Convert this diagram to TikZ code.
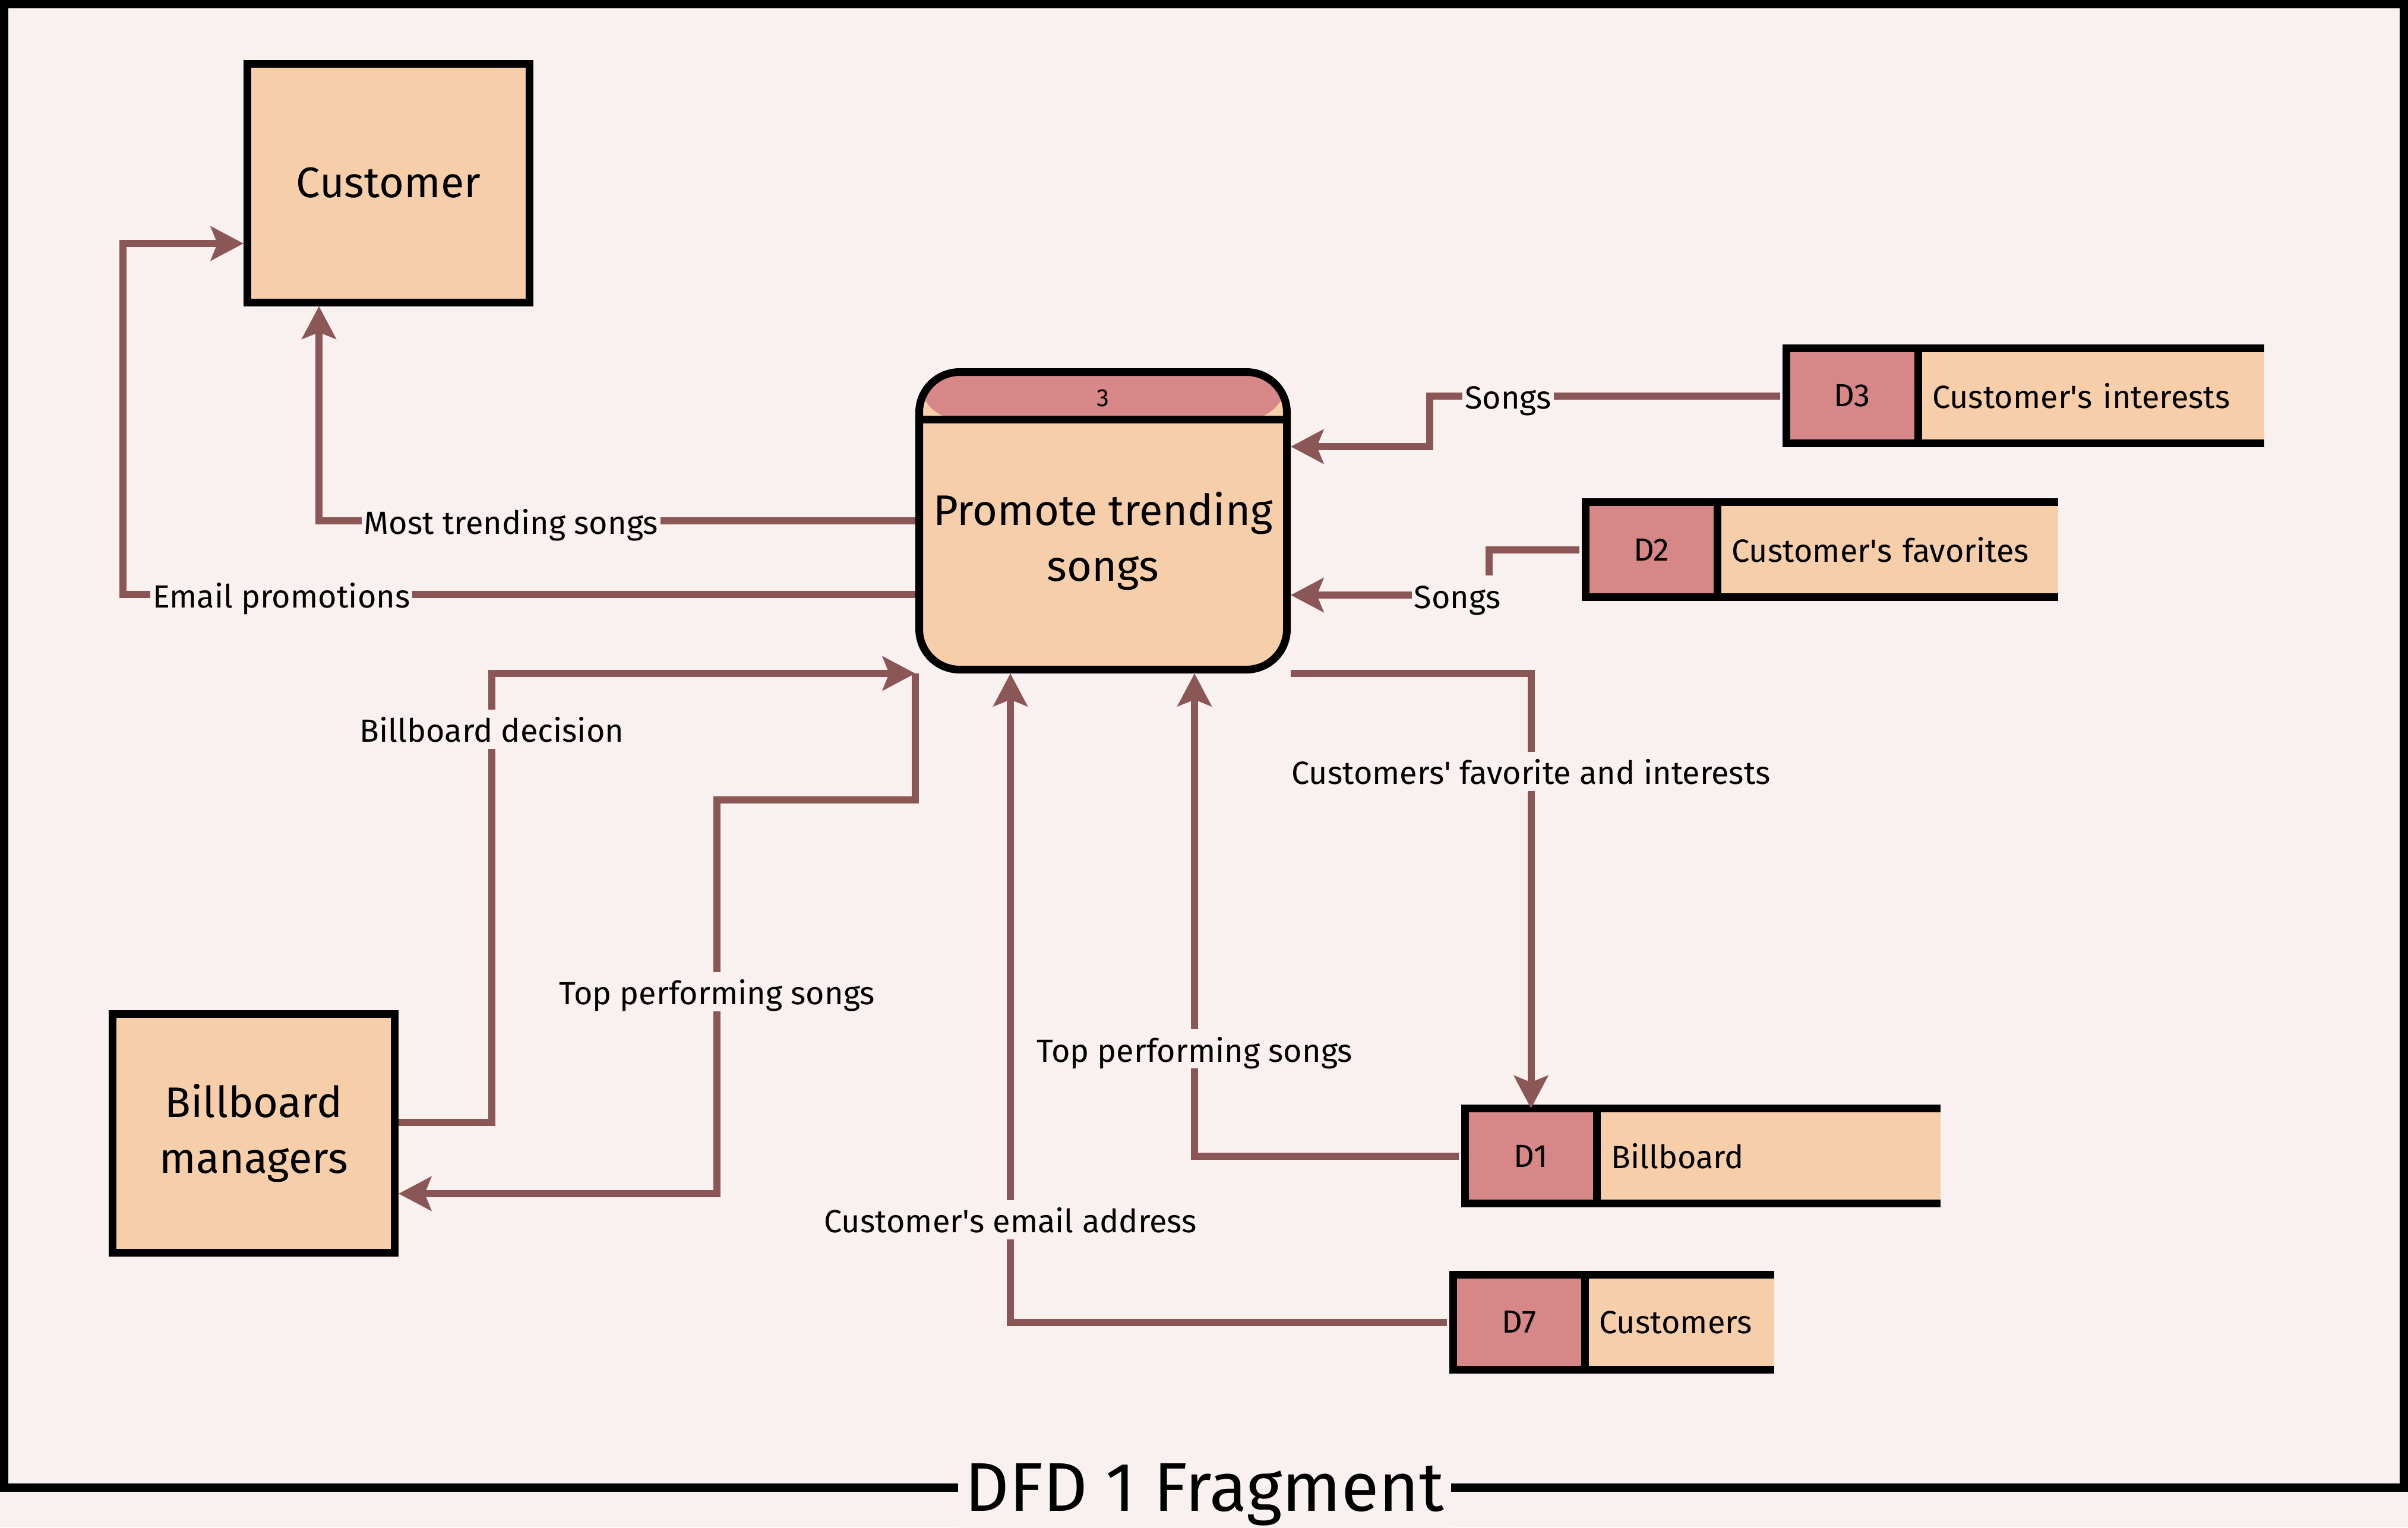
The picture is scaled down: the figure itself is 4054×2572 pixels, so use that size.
\documentclass[tikz,border=0pt]{standalone}
\usepackage{fontspec}
\setmainfont{Fira Sans}
\usetikzlibrary{arrows.meta,positioning}

\definecolor{pagebg}{HTML}{F9F0F0}
\definecolor{peach}{HTML}{F6CEAA}
\definecolor{rose}{HTML}{D78787}
\definecolor{flowc}{HTML}{8B5656}

\newcommand\lblfont{\fontsize{13.5}{16}\selectfont}
\newcommand\bigfont{\fontsize{18}{23.5}\selectfont}
\newcommand\idfont{\fontsize{10.5}{12}\selectfont}
\newcommand\ttlfont{\fontsize{29}{34}\selectfont}

\begin{document}
\begin{tikzpicture}[x=0.25pt,y=-0.25pt,>={Stealth[length=13.75pt,width=14.25pt,inset=2.75pt]},
    entity/.style={draw,fill=peach,line width=3.25pt,minimum width=118.75pt,minimum height=100.5pt,align=center,font=\bigfont},
    process/.style={draw,fill=peach,line width=3.25pt,rounded corners=17pt,minimum width=154.75pt,minimum height=125.25pt,
        path picture={\fill[rose] (path picture bounding box.north west) rectangle ([yshift=-20pt]path picture bounding box.north east);
            \draw[line width=3.25pt] ([yshift=-20pt]path picture bounding box.north west) -- ([yshift=-20pt]path picture bounding box.north east);}},
    storeid/.style={fill=rose,minimum width=55.5pt,minimum height=40pt,inner sep=0pt,outer sep=0pt,font=\lblfont},
    storename/.style={fill=peach,minimum height=40pt,inner xsep=6pt,inner ysep=0pt,outer sep=0pt,align=left,font=\lblfont},
    storeline/.style={line width=3.25pt},
    flow/.style={->,draw=flowc,line width=3pt},
    fromstore/.style={shorten <=2.6pt},
    lbl/.style={fill=pagebg,inner xsep=1pt,inner ysep=0.5pt,text height=13.25pt,text depth=2.25pt,font=\lblfont}]

    \useasboundingbox (0,0) rectangle (4054,2572);
    \fill[pagebg] (0,0) rectangle (4054,2572);
    \draw[line width=3.5pt] (7,7) rectangle (4047,2505);
    \node[anchor=base,fill=pagebg,inner xsep=3pt,inner ysep=2pt,font=\ttlfont] (ttl) at (2028,2544) {DFD 1 Fragment};

    % external entities
    \node[entity] (cust) at (654,308) {Customer};
    \node[entity] (bbm) at (427,1908) {Billboard\\managers};

    % process 3
    \node[process] (proc) at (1857,877) {};
    \node[font=\idfont] (procid) at (1857,670) {3};
    \node[align=center,font=\bigfont] (proctext) at (1857,911) {Promote trending\\songs};

    % data stores
    \node[storeid] (d3) at (3118,666.5) {D3};
    \node[storename,text width=133.75pt,right=0pt of d3] (d3n) {Customer\textquotesingle s interests};
    \draw[storeline] (d3n.north east) -- (d3.north west) -- (d3.south west) -- (d3n.south east) (d3.north east) -- (d3.south east);

    \node[storeid] (d2) at (2780.5,925.5) {D2};
    \node[storename,text width=131.4pt,right=0pt of d2] (d2n) {Customer\textquotesingle s favorites};
    \draw[storeline] (d2n.north east) -- (d2.north west) -- (d2.south west) -- (d2n.south east) (d2.north east) -- (d2.south east);

    \node[storeid] (d1) at (2577.5,1946.5) {D1};
    \node[storename,text width=132.6pt,right=0pt of d1] (d1n) {Billboard};
    \draw[storeline] (d1n.north east) -- (d1.north west) -- (d1.south west) -- (d1n.south east) (d1.north east) -- (d1.south east);

    \node[storeid] (d7) at (2557.5,2226.5) {D7};
    \node[storename,text width=67.6pt,right=0pt of d7] (d7n) {Customers};
    \draw[storeline] (d7n.north east) -- (d7.north west) -- (d7.south west) -- (d7n.south east) (d7.north east) -- (d7.south east);

    % data flows
    \draw[flow] (proc.west) -- node[lbl,pos=0.678]{Most trending songs} (537,0 |- proc.west) -- (537,0 |- cust.south);
    \draw[flow] (proc.west |- 0,1001) -- node[lbl,pos=0.8]{Email promotions} (207,1001) -- (207,410) -- (cust.west |- 0,410);
    \draw[flow] (bbm.east |- 0,1890) -- (828,1890) -- node[lbl,pos=0.876]{Billboard decision} (828,0 |- proc.south west) -- (proc.south west);
    \draw[flow] (proc.south west) -- (proc.south west |- 0,1347) -- (1207,1347) -- node[lbl,pos=0.487]{Top performing songs} (1207,2010) -- (bbm.east |- 0,2010);
    \draw[flow,fromstore] (d7.west) -- (1701,0 |- d7.west) -- node[lbl,pos=0.158]{Customer\textquotesingle s email address} (1701,0 |- proc.south);
    \draw[flow,fromstore] (d1.west) -- (2011,0 |- d1.west) -- node[lbl,pos=0.222]{Top performing songs} (2011,0 |- proc.south);
    \draw[flow] (proc.south east) -- (d1.north |- proc.south east) -- node[lbl,pos=0.225]{Customers\textquotesingle{} favorite and interests} (d1.north);
    \draw[flow,fromstore] (d3.west) -- node[lbl,pos=0.78]{Songs} (2407,0 |- d3.west) -- (2407,752) -- (proc.east |- 0,752);
    \draw[flow,fromstore] (d2.west) -- (2507,0 |- d2.west) -- (2507,1002) -- node[lbl,pos=0.16]{Songs} (proc.east |- 0,1002);
\end{tikzpicture}
\end{document}
